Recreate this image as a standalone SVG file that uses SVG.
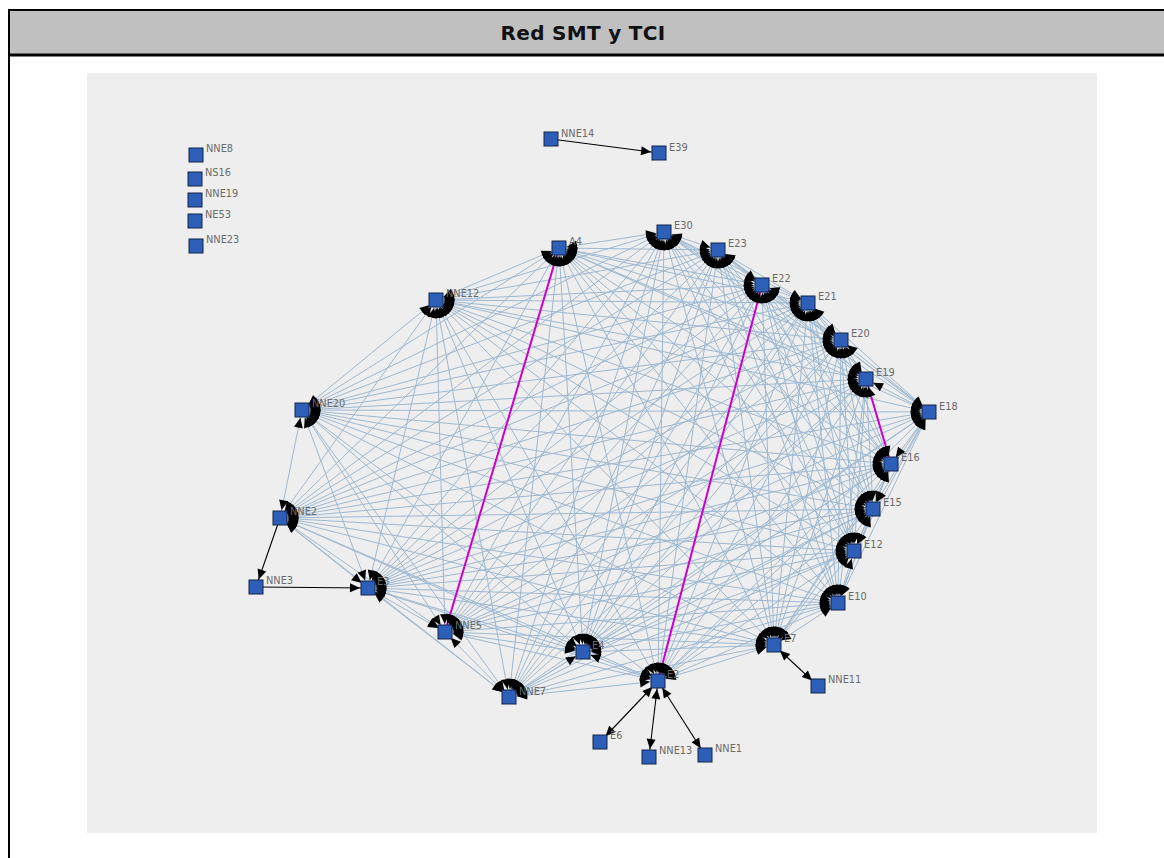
<svg xmlns="http://www.w3.org/2000/svg" xmlns:xlink="http://www.w3.org/1999/xlink" width="1164" height="858" viewBox="0 0 1164 858">
<style>
.nd rect{fill:#2d5fb9;stroke:#14254a;stroke-width:1}
.nd text{font-family:"DejaVu Sans",Verdana,sans-serif;font-size:9.8px;fill:#6a6a6a}
.blk{stroke:#000;stroke-width:1.1;fill:none}
</style>
<defs>
<marker id="a" markerUnits="userSpaceOnUse" markerWidth="20" markerHeight="10" refX="18" refY="4.5" orient="auto-start-reverse" overflow="visible"><path d="M0,0L10,4.5L0,9z" fill="#000"/></marker>
<g id="E">
<path d="M559 248L664 232"/><path d="M559 248L718 250"/><path d="M559 248L762 285"/><path d="M559 248L808 303"/><path d="M559 248L841 340"/><path d="M559 248L866 379"/><path d="M559 248L929 412"/><path d="M559 248L891 464"/><path d="M559 248L873 509"/><path d="M559 248L854 551"/><path d="M559 248L838 603"/><path d="M559 248L774 645"/><path d="M559 248L658 681"/><path d="M559 248L583 652"/><path d="M559 248L509 697"/><path d="M559 248L368 588"/><path d="M559 248L280 518"/><path d="M559 248L302 410"/><path d="M559 248L436 300"/>
<path d="M664 232L718 250"/><path d="M664 232L762 285"/><path d="M664 232L808 303"/><path d="M664 232L841 340"/><path d="M664 232L866 379"/><path d="M664 232L929 412"/><path d="M664 232L891 464"/><path d="M664 232L873 509"/><path d="M664 232L854 551"/><path d="M664 232L838 603"/><path d="M664 232L774 645"/><path d="M664 232L658 681"/><path d="M664 232L583 652"/><path d="M664 232L509 697"/><path d="M664 232L445 632"/><path d="M664 232L368 588"/><path d="M664 232L280 518"/><path d="M664 232L302 410"/><path d="M664 232L436 300"/>
<path d="M718 250L762 285"/><path d="M718 250L808 303"/><path d="M718 250L841 340"/><path d="M718 250L866 379"/><path d="M718 250L929 412"/><path d="M718 250L891 464"/><path d="M718 250L873 509"/><path d="M718 250L854 551"/><path d="M718 250L838 603"/><path d="M718 250L774 645"/><path d="M718 250L658 681"/><path d="M718 250L583 652"/><path d="M718 250L509 697"/><path d="M718 250L445 632"/><path d="M718 250L368 588"/><path d="M718 250L280 518"/><path d="M718 250L302 410"/><path d="M718 250L436 300"/>
<path d="M762 285L808 303"/><path d="M762 285L841 340"/><path d="M762 285L866 379"/><path d="M762 285L929 412"/><path d="M762 285L891 464"/><path d="M762 285L873 509"/><path d="M762 285L854 551"/><path d="M762 285L838 603"/><path d="M762 285L774 645"/><path d="M762 285L583 652"/><path d="M762 285L509 697"/><path d="M762 285L445 632"/><path d="M762 285L368 588"/><path d="M762 285L280 518"/><path d="M762 285L302 410"/><path d="M762 285L436 300"/>
<path d="M808 303L841 340"/><path d="M808 303L866 379"/><path d="M808 303L929 412"/><path d="M808 303L891 464"/><path d="M808 303L873 509"/><path d="M808 303L854 551"/><path d="M808 303L838 603"/><path d="M808 303L774 645"/><path d="M808 303L658 681"/><path d="M808 303L583 652"/><path d="M808 303L509 697"/><path d="M808 303L445 632"/><path d="M808 303L368 588"/><path d="M808 303L280 518"/><path d="M808 303L302 410"/><path d="M808 303L436 300"/>
<path d="M841 340L866 379"/><path d="M841 340L929 412"/><path d="M841 340L891 464"/><path d="M841 340L873 509"/><path d="M841 340L854 551"/><path d="M841 340L838 603"/><path d="M841 340L774 645"/><path d="M841 340L658 681"/><path d="M841 340L583 652"/><path d="M841 340L509 697"/><path d="M841 340L445 632"/><path d="M841 340L368 588"/><path d="M841 340L280 518"/><path d="M841 340L302 410"/><path d="M841 340L436 300"/>
<path d="M866 379L929 412"/><path d="M866 379L873 509"/><path d="M866 379L854 551"/><path d="M866 379L838 603"/><path d="M866 379L774 645"/><path d="M866 379L658 681"/><path d="M866 379L583 652"/><path d="M866 379L509 697"/><path d="M866 379L445 632"/><path d="M866 379L368 588"/><path d="M866 379L280 518"/><path d="M866 379L302 410"/><path d="M866 379L436 300"/>
<path d="M929 412L891 464"/><path d="M929 412L873 509"/><path d="M929 412L854 551"/><path d="M929 412L838 603"/><path d="M929 412L774 645"/><path d="M929 412L658 681"/><path d="M929 412L583 652"/><path d="M929 412L509 697"/><path d="M929 412L445 632"/><path d="M929 412L368 588"/><path d="M929 412L280 518"/><path d="M929 412L302 410"/><path d="M929 412L436 300"/>
<path d="M891 464L873 509"/><path d="M891 464L854 551"/><path d="M891 464L838 603"/><path d="M891 464L774 645"/><path d="M891 464L658 681"/><path d="M891 464L583 652"/><path d="M891 464L509 697"/><path d="M891 464L445 632"/><path d="M891 464L368 588"/><path d="M891 464L280 518"/><path d="M891 464L302 410"/><path d="M891 464L436 300"/>
<path d="M873 509L854 551"/><path d="M873 509L838 603"/><path d="M873 509L774 645"/><path d="M873 509L658 681"/><path d="M873 509L583 652"/><path d="M873 509L509 697"/><path d="M873 509L445 632"/><path d="M873 509L368 588"/><path d="M873 509L280 518"/><path d="M873 509L302 410"/><path d="M873 509L436 300"/>
<path d="M854 551L838 603"/><path d="M854 551L774 645"/><path d="M854 551L658 681"/><path d="M854 551L583 652"/><path d="M854 551L509 697"/><path d="M854 551L445 632"/><path d="M854 551L368 588"/><path d="M854 551L280 518"/><path d="M854 551L302 410"/><path d="M854 551L436 300"/>
<path d="M838 603L774 645"/><path d="M838 603L658 681"/><path d="M838 603L583 652"/><path d="M838 603L509 697"/><path d="M838 603L445 632"/><path d="M838 603L368 588"/><path d="M838 603L280 518"/><path d="M838 603L302 410"/><path d="M838 603L436 300"/>
<path d="M774 645L658 681"/><path d="M774 645L583 652"/><path d="M774 645L509 697"/><path d="M774 645L445 632"/><path d="M774 645L368 588"/><path d="M774 645L280 518"/><path d="M774 645L302 410"/><path d="M774 645L436 300"/>
<path d="M658 681L583 652"/><path d="M658 681L509 697"/><path d="M658 681L445 632"/><path d="M658 681L368 588"/><path d="M658 681L280 518"/><path d="M658 681L302 410"/><path d="M658 681L436 300"/>
<path d="M583 652L509 697"/><path d="M583 652L445 632"/><path d="M583 652L368 588"/><path d="M583 652L280 518"/><path d="M583 652L302 410"/><path d="M583 652L436 300"/>
<path d="M509 697L445 632"/><path d="M509 697L368 588"/><path d="M509 697L280 518"/><path d="M509 697L302 410"/><path d="M509 697L436 300"/>
<path d="M445 632L368 588"/><path d="M445 632L280 518"/><path d="M445 632L302 410"/><path d="M445 632L436 300"/>
<path d="M368 588L280 518"/><path d="M368 588L302 410"/><path d="M368 588L436 300"/>
<path d="M280 518L302 410"/><path d="M280 518L436 300"/>
<path d="M302 410L436 300"/>
</g>
<g id="M">
<path d="M559 248L445 632"/><path d="M762 285L658 681"/><path d="M866 379L891 464"/>
</g>
</defs>
<rect x="0" y="0" width="1164" height="858" fill="#fff"/>
<rect x="9" y="10" width="1170" height="860" fill="#fff" stroke="#000" stroke-width="2"/>
<rect x="9" y="10" width="1170" height="45" fill="#c0c0c0" stroke="#000" stroke-width="2"/>
<line x1="9" y1="55" x2="1164" y2="55" stroke="#000" stroke-width="3"/>
<text x="583" y="40" text-anchor="middle" font-family="DejaVu Sans, Verdana, sans-serif" font-weight="bold" font-size="20" letter-spacing="0.3" fill="#111">Red SMT y TCI</text>
<rect x="87" y="73" width="1010" height="760" fill="#eeeeee"/>
<g id="connectors">
<g stroke="#9db8d2" stroke-width="1" fill="none"><use xlink:href="#E" href="#E"/></g>
<g stroke="#cc00cc" stroke-width="2" fill="none"><use xlink:href="#M" href="#M"/></g>
<g stroke="none" fill="none" style="marker-start:url(#a);marker-end:url(#a)"><use xlink:href="#E" href="#E"/><use xlink:href="#M" href="#M"/></g>
<g class="blk">
<path d="M551 139L659 153" marker-end="url(#a)"/>
<path d="M280 518L256 587" marker-end="url(#a)"/>
<path d="M256 587L368 588" marker-end="url(#a)"/>
<path d="M658 681L600 742" marker-start="url(#a)" marker-end="url(#a)"/>
<path d="M658 681L649 757" marker-start="url(#a)" marker-end="url(#a)"/>
<path d="M658 681L705 755" marker-start="url(#a)" marker-end="url(#a)"/>
<path d="M774 645L818 686" marker-start="url(#a)" marker-end="url(#a)"/>
</g>
</g>
<g id="n-NNE8" class="nd"><rect x="189" y="148" width="14" height="14"/><text x="206" y="152">NNE8</text></g>
<g id="n-NS16" class="nd"><rect x="188" y="172" width="14" height="14"/><text x="205" y="176">NS16</text></g>
<g id="n-NNE19" class="nd"><rect x="188" y="193" width="14" height="14"/><text x="205" y="197">NNE19</text></g>
<g id="n-NE53" class="nd"><rect x="188" y="214" width="14" height="14"/><text x="205" y="218">NE53</text></g>
<g id="n-NNE23" class="nd"><rect x="189" y="239" width="14" height="14"/><text x="206" y="243">NNE23</text></g>
<g id="n-NNE14" class="nd"><rect x="544" y="132" width="14" height="14"/><text x="561" y="137">NNE14</text></g>
<g id="n-E39" class="nd"><rect x="652" y="146" width="14" height="14"/><text x="669" y="151">E39</text></g>
<g id="n-A4" class="nd"><rect x="552" y="241" width="14" height="14"/><text x="569" y="245">A4</text></g>
<g id="n-E30" class="nd"><rect x="657" y="225" width="14" height="14"/><text x="674" y="229">E30</text></g>
<g id="n-E23" class="nd"><rect x="711" y="243" width="14" height="14"/><text x="728" y="247">E23</text></g>
<g id="n-E22" class="nd"><rect x="755" y="278" width="14" height="14"/><text x="772" y="282">E22</text></g>
<g id="n-E21" class="nd"><rect x="801" y="296" width="14" height="14"/><text x="818" y="300">E21</text></g>
<g id="n-E20" class="nd"><rect x="834" y="333" width="14" height="14"/><text x="851" y="337">E20</text></g>
<g id="n-E19" class="nd"><rect x="859" y="372" width="14" height="14"/><text x="876" y="376">E19</text></g>
<g id="n-E18" class="nd"><rect x="922" y="405" width="14" height="14"/><text x="939" y="410">E18</text></g>
<g id="n-E16" class="nd"><rect x="884" y="457" width="14" height="14"/><text x="901" y="461">E16</text></g>
<g id="n-E15" class="nd"><rect x="866" y="502" width="14" height="14"/><text x="883" y="506">E15</text></g>
<g id="n-E12" class="nd"><rect x="847" y="544" width="14" height="14"/><text x="864" y="548">E12</text></g>
<g id="n-E10" class="nd"><rect x="831" y="596" width="14" height="14"/><text x="848" y="600">E10</text></g>
<g id="n-E7" class="nd"><rect x="767" y="638" width="14" height="14"/><text x="784" y="642">E7</text></g>
<g id="n-E2" class="nd"><rect x="651" y="674" width="14" height="14"/><text x="667" y="678">E2</text></g>
<g id="n-E4" class="nd"><rect x="576" y="645" width="14" height="14"/><text x="592" y="649">E4</text></g>
<g id="n-NNE7" class="nd"><rect x="502" y="690" width="14" height="14"/><text x="519" y="695">NNE7</text></g>
<g id="n-NNE5" class="nd"><rect x="438" y="625" width="14" height="14"/><text x="455" y="629">NNE5</text></g>
<g id="n-E3" class="nd"><rect x="361" y="581" width="14" height="14"/><text x="377" y="585">E3</text></g>
<g id="n-NNE3" class="nd"><rect x="249" y="580" width="14" height="14"/><text x="266" y="584">NNE3</text></g>
<g id="n-NNE2" class="nd"><rect x="273" y="511" width="14" height="14"/><text x="290" y="515">NNE2</text></g>
<g id="n-NNE20" class="nd"><rect x="295" y="403" width="14" height="14"/><text x="312" y="407">NNE20</text></g>
<g id="n-NNE12" class="nd"><rect x="429" y="293" width="14" height="14"/><text x="446" y="297">NNE12</text></g>
<g id="n-E6" class="nd"><rect x="593" y="735" width="14" height="14"/><text x="610" y="739">E6</text></g>
<g id="n-NNE13" class="nd"><rect x="642" y="750" width="14" height="14"/><text x="659" y="754">NNE13</text></g>
<g id="n-NNE1" class="nd"><rect x="698" y="748" width="14" height="14"/><text x="715" y="752">NNE1</text></g>
<g id="n-NNE11" class="nd"><rect x="811" y="679" width="14" height="14"/><text x="828" y="683">NNE11</text></g>
</svg>
